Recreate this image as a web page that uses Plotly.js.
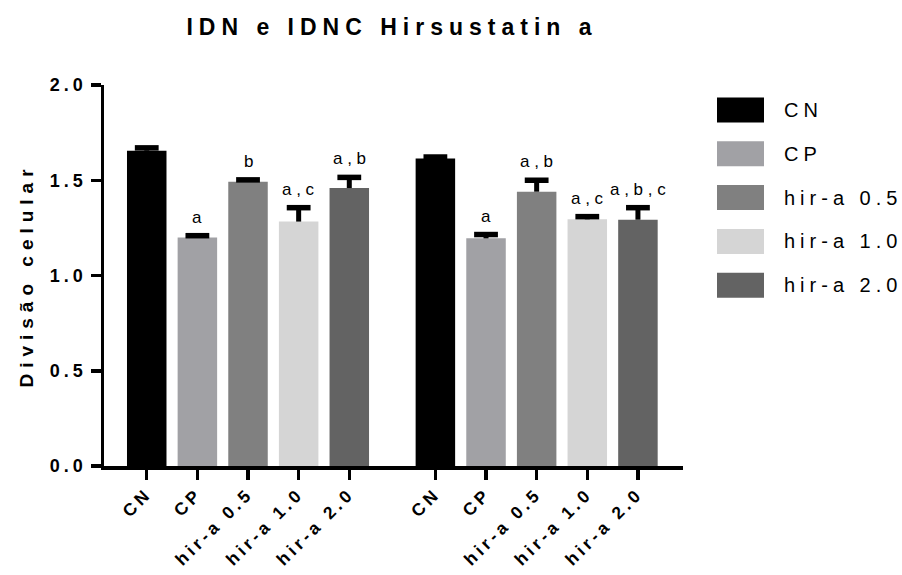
<!DOCTYPE html>
<html>
<head>
<meta charset="utf-8">
<script src="https://cdn.plot.ly/plotly-3.0.1.min.js"></script>
<style>
html,body{margin:0;padding:0;background:#fff;}
#chart{width:902px;height:575px;}
#chart .gtitle{letter-spacing:6px;}
#chart .ytitle{letter-spacing:6px;}
#chart .xtick text{letter-spacing:3.8px;}
#chart .ytick text{letter-spacing:4px;}
#chart .legtxt{letter-spacing:5px;}
</style>
</head>
<body>
<div id="chart"></div>
<script>
// ---- data ----
const groups = ["IDN", "IDNC"];
const treatments = ["CN", "CP", "hir-a 0.5", "hir-a 1.0", "hir-a 2.0"];
const colors = ["#000000", "#a1a1a5", "#808080", "#d5d5d5", "#636363"];
const meanIDN  = [1.655, 1.199, 1.492, 1.283, 1.459];
const errIDN   = [0.015, 0.010, 0.010, 0.073, 0.056];
const meanIDNC = [1.614, 1.195, 1.440, 1.295, 1.293];
const errIDNC  = [0.008, 0.020, 0.060, 0.014, 0.063];
const letIDN   = ["", "a", "b", "a , c", "a , b"];
const letIDNC  = ["", "a", "a , b", "a , c", "a , b , c"];
const groupOffset = 5.70;

// ---- geometry helpers ----
const L = 104, R = 683, T = 85, B = 466, W = 902, H = 575;
const px2x = p => (p - L) / (R - L);
const px2y = p => (B - p) / (B - T);
const FONT = 'Liberation Sans, Arial, sans-serif';

const means = [meanIDN, meanIDNC], errs = [errIDN, errIDNC], lets = [letIDN, letIDNC];
const traces = [];
const tickvals = [], ticktext = [];
const annotations = [];
const shapes = [];

// legend (swatches + labels)
treatments.forEach((t, i) => {
  const top = 97.5 + i * 43.8;
  shapes.push({type: 'rect', xref: 'paper', yref: 'paper',
    x0: px2x(717), x1: px2x(764), y0: px2y(top + 25), y1: px2y(top),
    fillcolor: colors[i], line: {width: 0}});
  annotations.push({xref: 'paper', yref: 'paper', x: px2x(782), y: px2y(top + 12.5),
    xanchor: 'left', yanchor: 'middle', align: 'left', showarrow: false, text: t,
    font: {family: FONT, size: 20, color: '#000'}});
});

// bars
treatments.forEach((t, i) => {
  traces.push({
    type: 'bar', name: t, x: [i, i + groupOffset], y: [meanIDN[i], meanIDNC[i]],
    width: 0.78, marker: {color: colors[i], line: {width: 0}},
    showlegend: false, hoverinfo: 'skip'
  });
});

// one-sided error bars: stems and caps
const stemX = [], stemY = [], capX = [], capY = [];
for (let g = 0; g < 2; g++) {
  treatments.forEach((t, i) => {
    const x = i + g * groupOffset;
    const m = means[g][i], e = errs[g][i];
    stemX.push(x, x, null); stemY.push(m, m + e, null);
    capX.push(x); capY.push(m + e);
    tickvals.push(x); ticktext.push(t);
    if (lets[g][i]) {
      annotations.push({x: x, y: m + e, xref: 'x', yref: 'y',
        text: lets[g][i], showarrow: false, yanchor: 'bottom', yshift: 7,
        font: {family: FONT, size: 17, color: '#000'}});
    }
  });
}
traces.push({type: 'scatter', mode: 'lines', x: stemX, y: stemY,
  line: {color: '#000', width: 5}, showlegend: false, hoverinfo: 'skip', cliponaxis: false});
traces.push({type: 'scatter', mode: 'markers', x: capX, y: capY,
  marker: {symbol: 'line-ew', size: 17, color: '#000', line: {color: '#000', width: 5.5}},
  showlegend: false, hoverinfo: 'skip', cliponaxis: false});

const layout = {
  width: W, height: H,
  margin: {l: L, r: W - R, t: T, b: H - B, pad: 0},
  paper_bgcolor: '#fff', plot_bgcolor: '#fff',
  showlegend: false, barmode: 'overlay',
  title: {text: 'IDN e IDNC Hirsustatin a', x: 392 / W, xref: 'container', xanchor: 'center',
    y: 1 - 27 / H, yref: 'container', yanchor: 'middle',
    font: {family: FONT, size: 23, color: '#000', weight: 'bold'}},
  xaxis: {range: [-0.844, 10.59], tickvals: tickvals, ticktext: ticktext, tickangle: -45,
    showline: true, linecolor: '#000', linewidth: 3.5, ticks: 'outside', ticklen: 10, tickwidth: 3.5,
    tickcolor: '#000', showgrid: false, zeroline: false, fixedrange: true, ticklabelstandoff: -3,
    tickfont: {family: FONT, size: 17.5, color: '#000', weight: 'bold'}},
  yaxis: {range: [0, 2], tickvals: [0, 0.5, 1, 1.5, 2], ticktext: ['0.0', '0.5', '1.0', '1.5', '2.0'],
    showline: true, linecolor: '#000', linewidth: 3.5, ticks: 'outside', ticklen: 10, tickwidth: 3.5,
    tickcolor: '#000', showgrid: false, zeroline: false, fixedrange: true,
    tickfont: {family: FONT, size: 18, color: '#000', weight: 'bold'},
    title: {text: 'Divisão celular', standoff: 24,
      font: {family: FONT, size: 19, color: '#000', weight: 'bold'}}},
  annotations: annotations, shapes: shapes
};

Plotly.newPlot('chart', traces, layout, {staticPlot: true}).then(() => {
  document.querySelectorAll('#chart .annotation-text').forEach(el => {
    if (treatments.includes(el.textContent)) el.classList.add('legtxt');
  });
});
</script>
</body>
</html>
